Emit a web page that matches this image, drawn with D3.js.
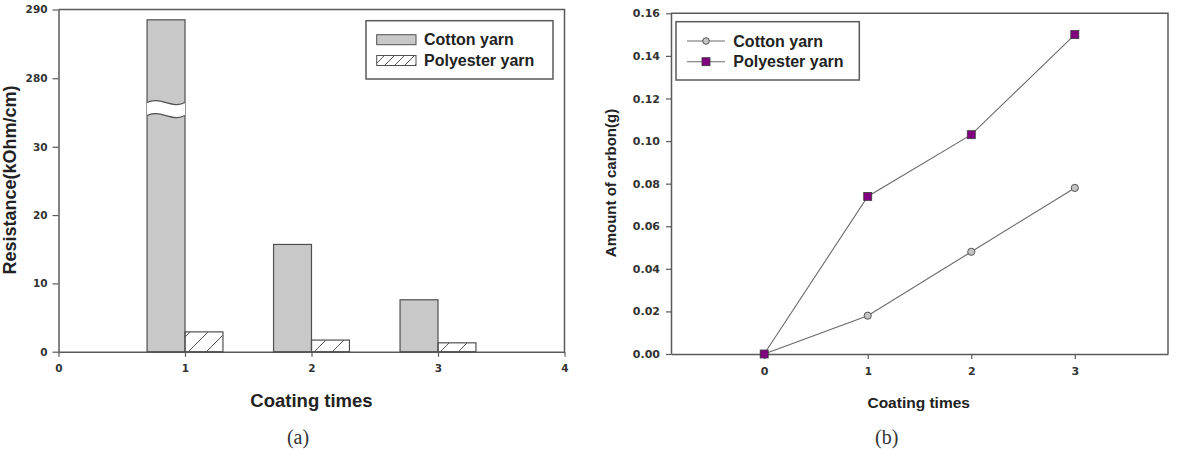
<!DOCTYPE html>
<html>
<head>
<meta charset="utf-8">
<script src="https://cdn.jsdelivr.net/npm/d3@7"></script>
<style>
  body { margin: 0; background: #fff; }
  svg { display: block; }
</style>
</head>
<body>
<svg id="fig" width="1179" height="451"></svg>
<script>
// (a) resistance vs coating times
var coatA = [1, 2, 3];
var cottonRes = [288.5, 15.7, 7.6];
var polyRes = [2.9, 1.7, 1.3];
var resTicks = [0, 10, 20, 30, 280, 290];
var xTicksA = [0, 1, 2, 3, 4];

// (b) amount of carbon vs coating times
var coatB = [0, 1, 2, 3];
var cottonCarbon = [0, 0.018, 0.048, 0.078];
var polyCarbon = [0, 0.074, 0.103, 0.150];
var carbonTicks = [0, 0.02, 0.04, 0.06, 0.08, 0.10, 0.12, 0.14, 0.16];
var xTicksB = [0, 1, 2, 3];

var svg = d3.select('#fig');
var axisCol = '#5a5a5a';
var tickFont = 'DejaVu Sans, sans-serif';
var labFont = 'Liberation Sans, Arial, sans-serif';

var defs = svg.append('defs');
defs.append('pattern')
  .attr('id', 'hatch')
  .attr('patternUnits', 'userSpaceOnUse')
  .attr('width', 18).attr('height', 18)
  .append('path')
  .attr('d', 'M-2,2 l4,-4 M0,18 l18,-18 M16,20 l4,-4')
  .attr('stroke', '#555').attr('stroke-width', 1);
defs.append('pattern')
  .attr('id', 'hatchSmall')
  .attr('patternUnits', 'userSpaceOnUse')
  .attr('width', 10).attr('height', 10)
  .append('path')
  .attr('d', 'M-2,2 l4,-4 M0,10 l10,-10 M8,12 l4,-4')
  .attr('stroke', '#555').attr('stroke-width', 1);

function styleAxis(g, size) {
  g.select('.domain').attr('stroke', axisCol).attr('stroke-width', 1.5);
  g.selectAll('.tick line').attr('stroke', axisCol).attr('stroke-width', 1.2);
  g.selectAll('.tick text')
    .attr('fill', '#333')
    .style('font-family', tickFont)
    .style('font-weight', 'bold')
    .style('font-size', size + 'px');
}

// ---------------- chart (a) ----------------
var xa = d3.scaleLinear().domain([0, 4]).range([58.5, 564.5]);
// broken axis: 0-35 below, 275-290 above
var ya = d3.scaleLinear().domain([0, 35, 275, 290]).range([351.7, 112.6, 112.6, 9.5]);
var barW = 0.3;

svg.append('g')
  .attr('transform', 'translate(0,' + ya(0) + ')')
  .call(d3.axisBottom(xa).tickValues(xTicksA).tickSize(5).tickSizeOuter(0).tickPadding(8).tickFormat(d3.format('d')))
  .call(styleAxis, 10.5);

svg.append('g')
  .attr('transform', 'translate(' + xa(0) + ',0)')
  .call(d3.axisLeft(ya).tickValues(resTicks).tickSize(6).tickSizeOuter(0).tickPadding(5).tickFormat(d3.format('d')))
  .call(styleAxis, 10.5);

// frame top/right
svg.append('path')
  .attr('d', 'M' + xa(0) + ',' + ya(290) + 'H' + xa(4) + 'V' + ya(0))
  .attr('fill', 'none').attr('stroke', axisCol).attr('stroke-width', 1.5);

svg.selectAll('.cbar')
  .data(coatA)
  .enter().append('rect')
  .attr('class', 'cbar')
  .attr('x', function(d) { return xa(d - barW); })
  .attr('y', function(d, i) { return ya(cottonRes[i]); })
  .attr('width', function(d) { return xa(d) - xa(d - barW); })
  .attr('height', function(d, i) { return ya(0) - ya(cottonRes[i]); })
  .attr('fill', '#c8c8c8')
  .attr('stroke', '#505050').attr('stroke-width', 1.2);

svg.selectAll('.pbar')
  .data(coatA)
  .enter().append('rect')
  .attr('class', 'pbar')
  .attr('x', function(d) { return xa(d); })
  .attr('y', function(d, i) { return ya(polyRes[i]); })
  .attr('width', function(d) { return xa(d + barW) - xa(d); })
  .attr('height', function(d, i) { return ya(0) - ya(polyRes[i]); })
  .attr('fill', 'url(#hatch)')
  .attr('stroke', '#505050').attr('stroke-width', 1.2);

// wavy break across the tall bar
(function() {
  var x0 = xa(coatA[0] - barW), x1 = xa(coatA[0]), w = x1 - x0;
  var t = ya(35) - 10, b = ya(35) + 3;
  function wave(y) {
    return 'C' + (x0 + w / 3) + ',' + (y - 7) + ' ' + (x0 + 2 * w / 3) + ',' + (y + 7) + ' ' + x1 + ',' + y;
  }
  var top = 'M' + x0 + ',' + t + wave(t);
  var bot = 'M' + x0 + ',' + b + wave(b);
  svg.append('path')
    .attr('d', top + 'L' + x1 + ',' + b + 'C' + (x0 + 2 * w / 3) + ',' + (b + 7) + ' ' + (x0 + w / 3) + ',' + (b - 7) + ' ' + x0 + ',' + b + 'Z')
    .attr('fill', '#fff').attr('stroke', 'none');
  svg.append('path').attr('d', top + bot)
    .attr('fill', 'none').attr('stroke', '#505050').attr('stroke-width', 1.2);
})();

// legend (a)
var lga = svg.append('g');
lga.append('rect')
  .attr('x', 366).attr('y', 20.7).attr('width', 187).attr('height', 58.3)
  .attr('fill', '#fff').attr('stroke', axisCol).attr('stroke-width', 1.5);
[['Cotton yarn', '#c8c8c8', 34.7, 45], ['Polyester yarn', 'url(#hatchSmall)', 55.5, 65.5]].forEach(function(r) {
  lga.append('rect')
    .attr('x', 376.7).attr('y', r[2]).attr('width', 39.3).attr('height', 10)
    .attr('fill', r[1]).attr('stroke', '#505050').attr('stroke-width', 1);
  lga.append('text')
    .attr('x', 424).attr('y', r[3])
    .style('font-family', labFont).style('font-weight', 'bold').style('font-size', '16px')
    .attr('fill', '#222')
    .text(r[0]);
});

svg.append('text')
  .attr('x', 311.5).attr('y', 406.5)
  .attr('text-anchor', 'middle')
  .style('font-family', labFont).style('font-weight', 'bold').style('font-size', '18.5px')
  .attr('fill', '#222')
  .text('Coating times');

svg.append('text')
  .attr('transform', 'translate(15.5,180) rotate(-90)')
  .attr('text-anchor', 'middle')
  .style('font-family', labFont).style('font-weight', 'bold').style('font-size', '18px')
  .attr('fill', '#222')
  .text('Resistance(kOhm/cm)');

svg.append('text')
  .attr('x', 298).attr('y', 444)
  .attr('text-anchor', 'middle')
  .style('font-family', 'Liberation Serif, serif').style('font-size', '20px')
  .attr('fill', '#333')
  .text('(a)');

// ---------------- chart (b) ----------------
var xb = d3.scaleLinear().domain([-0.9, 3.9]).range([671, 1168]);
var yb = d3.scaleLinear().domain([0, 0.16]).range([354, 13.3]);

svg.append('g')
  .attr('transform', 'translate(0,' + yb(0) + ')')
  .call(d3.axisBottom(xb).tickValues(xTicksB).tickSize(5).tickSizeOuter(0).tickPadding(8).tickFormat(d3.format('d')))
  .call(styleAxis, 11);

svg.append('g')
  .attr('transform', 'translate(' + xb(-0.9) + ',0)')
  .call(d3.axisLeft(yb).tickValues(carbonTicks).tickSize(5).tickSizeOuter(0).tickPadding(6).tickFormat(d3.format('.2f')))
  .call(styleAxis, 11);

svg.append('path')
  .attr('d', 'M' + xb(-0.9) + ',' + yb(0.16) + 'H' + xb(3.9) + 'V' + yb(0))
  .attr('fill', 'none').attr('stroke', axisCol).attr('stroke-width', 1.5);

var line = d3.line()
  .x(function(d) { return xb(d[0]); })
  .y(function(d) { return yb(d[1]); });

var cottonPts = d3.zip(coatB, cottonCarbon);
var polyPts = d3.zip(coatB, polyCarbon);

svg.append('path').datum(cottonPts).attr('d', line)
  .attr('fill', 'none').attr('stroke', '#6a6a6a').attr('stroke-width', 1.1);
svg.append('path').datum(polyPts).attr('d', line)
  .attr('fill', 'none').attr('stroke', '#6a6a6a').attr('stroke-width', 1.1);

svg.selectAll('.cdot')
  .data(cottonPts)
  .enter().append('circle')
  .attr('class', 'cdot')
  .attr('cx', function(d) { return xb(d[0]); })
  .attr('cy', function(d) { return yb(d[1]); })
  .attr('r', 3.6)
  .attr('fill', '#c4c4c4').attr('stroke', '#555').attr('stroke-width', 1);

svg.selectAll('.pdot')
  .data(polyPts)
  .enter().append('rect')
  .attr('class', 'pdot')
  .attr('x', function(d) { return xb(d[0]) - 4; })
  .attr('y', function(d) { return yb(d[1]) - 4; })
  .attr('width', 8).attr('height', 8)
  .attr('fill', '#800080').attr('stroke', '#3a3a3a').attr('stroke-width', 0.8);

// legend (b)
var lgb = svg.append('g');
lgb.append('rect')
  .attr('x', 676).attr('y', 21.7).attr('width', 183.3).attr('height', 58.3)
  .attr('fill', '#fff').attr('stroke', axisCol).attr('stroke-width', 1.5);
[['Cotton yarn', 41, 'c', 46.7], ['Polyester yarn', 61.7, 'p', 67]].forEach(function(r) {
  lgb.append('line')
    .attr('x1', 687).attr('x2', 725).attr('y1', r[1]).attr('y2', r[1])
    .attr('stroke', '#6a6a6a').attr('stroke-width', 1.1);
  if (r[2] === 'c') {
    lgb.append('circle').attr('cx', 706).attr('cy', r[1]).attr('r', 3.3)
      .attr('fill', '#c4c4c4').attr('stroke', '#555').attr('stroke-width', 1);
  } else {
    lgb.append('rect').attr('x', 702).attr('y', r[1] - 4).attr('width', 8).attr('height', 8)
      .attr('fill', '#800080').attr('stroke', '#3a3a3a').attr('stroke-width', 0.8);
  }
  lgb.append('text')
    .attr('x', 733.3).attr('y', r[3])
    .style('font-family', labFont).style('font-weight', 'bold').style('font-size', '16px')
    .attr('fill', '#222')
    .text(r[0]);
});

svg.append('text')
  .attr('x', 918.7).attr('y', 407.5)
  .attr('text-anchor', 'middle')
  .style('font-family', labFont).style('font-weight', 'bold').style('font-size', '15.5px')
  .attr('fill', '#222')
  .text('Coating times');

svg.append('text')
  .attr('transform', 'translate(615.5,183) rotate(-90)')
  .attr('text-anchor', 'middle')
  .style('font-family', labFont).style('font-weight', 'bold').style('font-size', '15px')
  .attr('fill', '#222')
  .text('Amount of carbon(g)');

svg.append('text')
  .attr('x', 886.7).attr('y', 444)
  .attr('text-anchor', 'middle')
  .style('font-family', 'Liberation Serif, serif').style('font-size', '20px')
  .attr('fill', '#333')
  .text('(b)');
</script>
</body>
</html>
